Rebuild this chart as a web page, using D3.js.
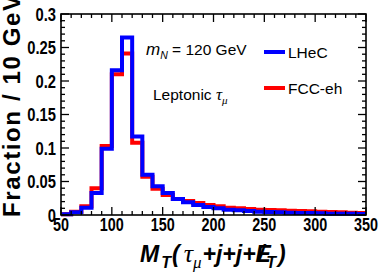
<!DOCTYPE html>
<html>
<head>
<meta charset="utf-8">
<script src="https://cdn.jsdelivr.net/npm/d3@7"></script>
<style>
  body { margin: 0; background: #fff; }
  text { font-family: "Liberation Sans", Arial, sans-serif; }
</style>
</head>
<body>
<div id="plot"></div>
<script>
// histogram data, 10 GeV bins from 50 to 350
var binEdges = d3.range(50, 350, 10);
var lhec = [0.001, 0.004, 0.011, 0.033, 0.099, 0.216, 0.265, 0.117, 0.060, 0.043,
            0.033, 0.024, 0.019, 0.015, 0.012, 0.010, 0.008, 0.007, 0.006, 0.005,
            0.0045, 0.004, 0.0035, 0.003, 0.003, 0.0025, 0.002, 0.002, 0.002, 0.0015];
var fcceh = [0.001, 0.005, 0.013, 0.040, 0.103, 0.210, 0.241, 0.108, 0.057, 0.039,
             0.030, 0.024, 0.021, 0.018, 0.015, 0.013, 0.011, 0.010, 0.009, 0.008,
             0.0075, 0.007, 0.0065, 0.006, 0.0055, 0.005, 0.0045, 0.004, 0.0035, 0.003];
var xTicks = [50, 100, 150, 200, 250, 300, 350];
var yTicks = [0, 0.05, 0.1, 0.15, 0.2, 0.25, 0.3];
var seriesNames = ["LHeC", "FCC-eh"];

var W = 382, H = 273;
var margin = {top: 14, right: 16, bottom: 58, left: 61};

var svg = d3.select("#plot").append("svg")
    .attr("width", W)
    .attr("height", H);

var x = d3.scaleLinear().domain([50, 350]).range([margin.left, W - margin.right]);
var y = d3.scaleLinear().domain([0, 0.3]).range([H - margin.bottom, margin.top]);

var step = d3.line()
    .x(function(d) { return x(d[0]); })
    .y(function(d) { return y(d[1]); })
    .curve(d3.curveStepAfter);

function histPoints(vals) {
  var pts = vals.map(function(v, i) { return [binEdges[i], v]; });
  pts.push([350, vals[vals.length - 1]]);
  return pts;
}

// red under, blue on top
svg.append("path")
    .attr("d", step(histPoints(fcceh)))
    .attr("fill", "none")
    .attr("stroke", "#ff0000")
    .attr("stroke-width", 4);

svg.append("path")
    .attr("d", step(histPoints(lhec)))
    .attr("fill", "none")
    .attr("stroke", "#0000ff")
    .attr("stroke-width", 4);

// frame
svg.append("rect")
    .attr("x", x(50)).attr("y", y(0.3))
    .attr("width", x(350) - x(50)).attr("height", y(0) - y(0.3))
    .attr("fill", "none")
    .attr("stroke", "#000")
    .attr("stroke-width", 1.6);

// ticks (ROOT style, inside, on all four sides)
var ticks = svg.append("g").attr("stroke", "#000").attr("stroke-width", 1.3);
d3.range(50, 351, 10).forEach(function(v) {
  var len = (v % 50 === 0) ? 8 : 4;
  ticks.append("line").attr("x1", x(v)).attr("x2", x(v)).attr("y1", y(0)).attr("y2", y(0) - len);
  ticks.append("line").attr("x1", x(v)).attr("x2", x(v)).attr("y1", y(0.3)).attr("y2", y(0.3) + len);
});
d3.range(0, 31, 1).forEach(function(k) {
  var v = k / 100;
  var len = (k % 5 === 0) ? 8 : 4;
  ticks.append("line").attr("x1", x(50)).attr("x2", x(50) + len).attr("y1", y(v)).attr("y2", y(v));
  ticks.append("line").attr("x1", x(350)).attr("x2", x(350) - len).attr("y1", y(v)).attr("y2", y(v));
});

// tick labels - narrow bold like the ROOT output
svg.append("g").selectAll("text")
    .data(xTicks)
  .enter().append("text")
    .attr("transform", function(d) { return "translate(" + x(d) + "," + (y(0) + 16) + ") scale(0.8,1)"; })
    .attr("text-anchor", "middle")
    .attr("font-size", 18)
    .attr("font-weight", "bold")
    .text(function(d) { return d; });

svg.append("g").selectAll("text")
    .data(yTicks)
  .enter().append("text")
    .attr("transform", function(d) { return "translate(" + (x(50) - 5) + "," + (y(d) + 6.5) + ") scale(0.82,1)"; })
    .attr("text-anchor", "end")
    .attr("font-size", 18)
    .attr("font-weight", "bold")
    .text(function(d) { return d3.format("")(d); });

// axis titles
svg.append("text")
    .attr("transform", "translate(20,217) rotate(-90)")
    .attr("font-size", 24)
    .attr("font-weight", "bold")
    .attr("textLength", 222)
    .attr("lengthAdjust", "spacing")
    .text("Fraction / 10 GeV");

var xt = svg.append("text")
    .attr("x", 140)
    .attr("y", 262)
    .attr("font-size", 23)
    .attr("font-weight", "bold")
    .attr("font-style", "italic");
xt.append("tspan").text("M");
xt.append("tspan").attr("font-size", 16).attr("dx", 2).attr("dy", 6).text("T");
xt.append("tspan").attr("dx", 1).attr("dy", -6).text("(");
xt.append("tspan").attr("dx", 4).attr("font-weight", "normal").attr("font-size", 26).attr("font-family", "Liberation Serif").text("\u03c4");
xt.append("tspan").attr("font-size", 17).attr("dy", 6).attr("font-weight", "normal").attr("font-family", "Liberation Serif").text("\u03bc");
xt.append("tspan").attr("dx", 1).attr("dy", -6).text("+j+j+E");
xt.append("tspan").attr("dx", -13).text("/");
xt.append("tspan").attr("dx", 2).attr("font-size", 16).attr("dy", 6).text("T");
xt.append("tspan").attr("dx", 2).attr("dy", -6).text(")");

// annotations
var mn = svg.append("text").attr("x", 146).attr("y", 55).attr("font-size", 15.5);
mn.append("tspan").attr("font-style", "italic").attr("font-size", 17).text("m");
mn.append("tspan").attr("font-size", 10.5).attr("font-style", "italic").attr("dy", 4).text("N");
mn.append("tspan").attr("dy", -4).text(" = 120 GeV");

var lep = svg.append("text").attr("x", 153).attr("y", 100).attr("font-size", 15.5);
lep.append("tspan").text("Leptonic ");
lep.append("tspan").attr("font-style", "italic").attr("font-family", "Liberation Serif").attr("font-size", 17).text("\u03c4");
lep.append("tspan").attr("font-size", 11).attr("font-style", "italic").attr("font-family", "Liberation Serif").attr("dy", 4).text("\u03bc");

// legend
var legColors = ["#0000ff", "#ff0000"];
var legY = [52, 88];
seriesNames.forEach(function(name, i) {
  svg.append("line")
      .attr("x1", 264).attr("x2", 285)
      .attr("y1", legY[i]).attr("y2", legY[i])
      .attr("stroke", legColors[i])
      .attr("stroke-width", 4);
  svg.append("text")
      .attr("x", 288)
      .attr("y", legY[i] + 6)
      .attr("font-size", 15.5)
      .text(name);
});
</script>
</body>
</html>
